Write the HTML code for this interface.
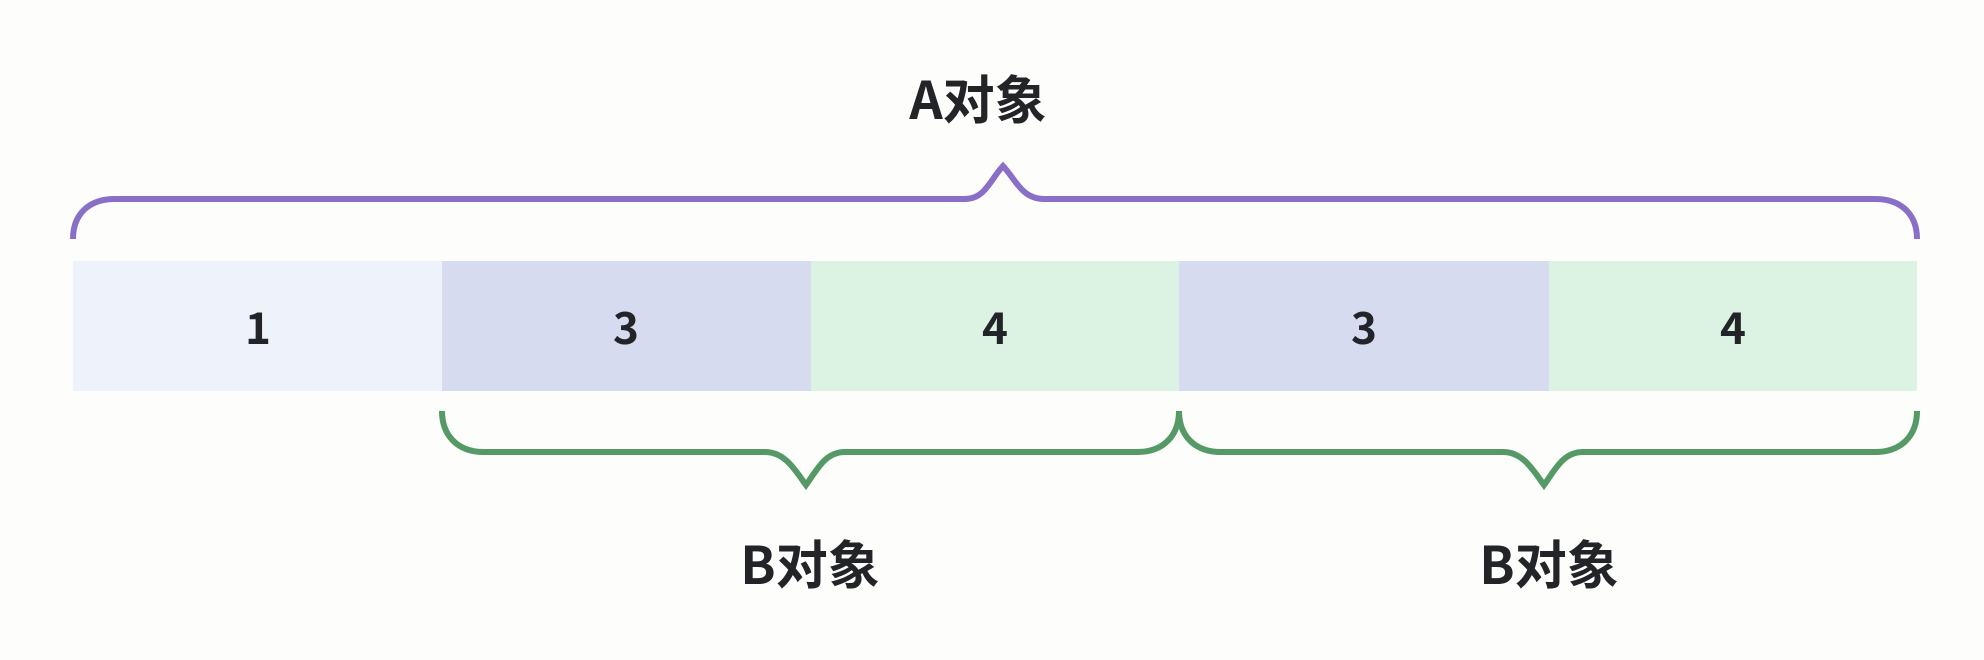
<!DOCTYPE html>
<html><head><meta charset="utf-8"><style>
html,body{margin:0;padding:0;background:#fdfdfb;}
svg{display:block}
text{font-family:"Noto Sans CJK SC","Liberation Sans",sans-serif;font-weight:bold;fill:#222428}
</style></head><body>
<svg width="1984" height="660" viewBox="0 0 1984 660" xmlns="http://www.w3.org/2000/svg">
<rect width="1984" height="660" fill="#fdfdfb"/>
<rect x="73" y="261" width="369" height="130" fill="#eef2fb"/>
<rect x="442" y="261" width="369" height="130" fill="#d6dbf0"/>
<rect x="811" y="261" width="368" height="130" fill="#dcf3e3"/>
<rect x="1179" y="261" width="370" height="130" fill="#d6dbf0"/>
<rect x="1549" y="261" width="368" height="130" fill="#dcf3e3"/>
<g font-size="44" text-anchor="middle">
<text x="258" y="344">1</text>
<text x="626" y="344">3</text>
<text x="995" y="344">4</text>
<text x="1364" y="344">3</text>
<text x="1733" y="344">4</text>
</g>
<path d="M73,239 C73,215 88,199 115,199 L965,199 C985,199 990,180 1003,166 C1016,180 1022,199 1044,199 L1875,199 C1902,199 1917,215 1917,239" fill="none" stroke="#8a6fc8" stroke-width="6"/>
<path d="M442,411 C442,435 457,452 484,452 L765,452 C785,452 795,470 806,485 C817,470 825,452 845,452 L1137,452 C1164,452 1179,435 1179,411" fill="none" stroke="#559966" stroke-width="6"/>
<path d="M1179,411 C1179,435 1194,452 1221,452 L1503,452 C1523,452 1533,470 1544,485 C1555,470 1563,452 1583,452 L1875,452 C1902,452 1917,435 1917,411" fill="none" stroke="#559966" stroke-width="6"/>
<g font-size="52" text-anchor="middle">
<text x="978" y="119">A对象</text>
<text x="810" y="584">B对象</text>
<text x="1549" y="584">B对象</text>
</g>
</svg>
</body></html>
